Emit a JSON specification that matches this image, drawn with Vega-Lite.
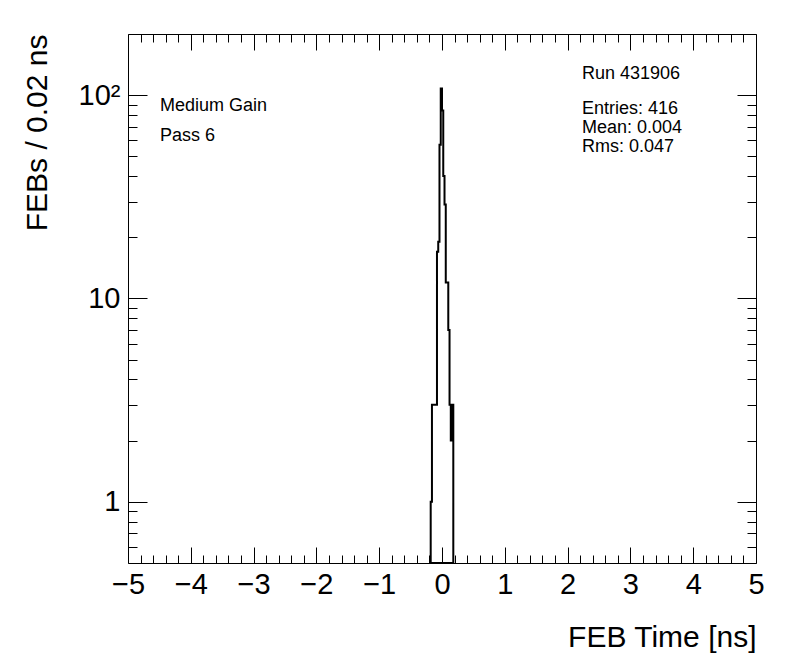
{
  "$schema": "https://vega.github.io/schema/vega-lite/v6.json",
  "width": 628,
  "height": 529,
  "autosize": {"type": "none"},
  "padding": {"left": 128, "top": 34, "right": 40, "bottom": 109},
  "background": "white",
  "config": {
    "view": {"stroke": "black", "strokeWidth": 1},
    "axis": {
      "grid": false,
      "labelFont": "Liberation Sans",
      "labelFontSize": 29,
      "labelColor": "black",
      "titleFont": "Liberation Sans",
      "titleFontSize": 30,
      "titleFontWeight": "normal",
      "titleColor": "black",
      "domainColor": "black",
      "tickColor": "black",
      "tickWidth": 1,
      "labelFlush": false,
      "labelOverlap": false
    },
    "text": {"font": "Liberation Sans", "fontSize": 18, "color": "black", "align": "left", "baseline": "alphabetic"}
  },
  "data": {
    "values": [
      {"t": -0.18, "n": 1},
      {"t": -0.16, "n": 3},
      {"t": -0.14, "n": 3},
      {"t": -0.12, "n": 3},
      {"t": -0.10, "n": 3},
      {"t": -0.08, "n": 17},
      {"t": -0.06, "n": 19},
      {"t": -0.04, "n": 57},
      {"t": -0.02, "n": 108},
      {"t": 0.00, "n": 84},
      {"t": 0.02, "n": 40},
      {"t": 0.04, "n": 29},
      {"t": 0.06, "n": 12},
      {"t": 0.08, "n": 12},
      {"t": 0.10, "n": 7},
      {"t": 0.12, "n": 3},
      {"t": 0.14, "n": 2},
      {"t": 0.16, "n": 3},
      {"t": 0.18, "n": 3}
    ]
  },
  "resolve": {"axis": {"x": "independent", "y": "independent"}},
  "layer": [
    {
      "mark": {"type": "area", "interpolate": "step-after", "fillOpacity": 0, "stroke": "black", "strokeWidth": 2, "clip": true},
      "encoding": {
        "x": {"field": "t", "type": "quantitative", "scale": {"domain": [-5, 5], "nice": false, "zero": false},
          "axis": {"orient": "bottom", "values": [-5, -4, -3, -2, -1, 0, 1, 2, 3, 4, 5], "ticks": false, "labelPadding": 7, "domain": false,
            "title": "FEB Time [ns]", "titleAnchor": "end", "titlePadding": 23}},
        "y": {"field": "n", "type": "quantitative", "scale": {"type": "log", "domain": [0.5, 200], "nice": false},
          "axis": {"orient": "left", "values": [1, 10, 100], "ticks": false, "labelPadding": 8, "domain": false,
            "labelExpr": "datum.value == 100 ? '10²' : datum.label",
            "title": "FEBs / 0.02 ns", "titleAnchor": "end", "titlePadding": 26}},
        "y2": {"datum": 0.5}
      }
    },
    {
      "mark": {"type": "point", "opacity": 0},
      "encoding": {
        "x": {"field": "t", "type": "quantitative", "scale": {"domain": [-5, 5], "nice": false, "zero": false},
          "axis": {"orient": "bottom", "values": [-5, -4, -3, -2, -1, 0, 1, 2, 3, 4, 5], "tickSize": -16, "labels": false, "domain": false, "title": null}},
        "y": {"field": "n", "type": "quantitative", "scale": {"type": "log", "domain": [0.5, 200], "nice": false},
          "axis": {"orient": "left", "values": [1, 10, 100], "tickSize": -19, "labels": false, "domain": false, "title": null}}
      }
    },
    {
      "mark": {"type": "point", "opacity": 0},
      "encoding": {
        "x": {"field": "t", "type": "quantitative", "scale": {"domain": [-5, 5], "nice": false, "zero": false},
          "axis": {"orient": "bottom", "values": [-4.8, -4.6, -4.4, -4.2, -3.8, -3.6, -3.4, -3.2, -2.8, -2.6, -2.4, -2.2, -1.8, -1.6, -1.4, -1.2, -0.8, -0.6, -0.4, -0.2, 0.2, 0.4, 0.6, 0.8, 1.2, 1.4, 1.6, 1.8, 2.2, 2.4, 2.6, 2.8, 3.2, 3.4, 3.6, 3.8, 4.2, 4.4, 4.6, 4.8], "tickSize": -8, "labels": false, "domain": false, "title": null}},
        "y": {"field": "n", "type": "quantitative", "scale": {"type": "log", "domain": [0.5, 200], "nice": false},
          "axis": {"orient": "left", "values": [0.6, 0.7, 0.8, 0.9, 2, 3, 4, 5, 6, 7, 8, 9, 20, 30, 40, 50, 60, 70, 80, 90], "tickSize": -9, "labels": false, "domain": false, "title": null}}
      }
    },
    {
      "mark": {"type": "point", "opacity": 0},
      "encoding": {
        "x": {"field": "t", "type": "quantitative", "scale": {"domain": [-5, 5], "nice": false, "zero": false},
          "axis": {"orient": "top", "values": [-5, -4, -3, -2, -1, 0, 1, 2, 3, 4, 5], "tickSize": -16, "labels": false, "domain": false, "title": null}},
        "y": {"field": "n", "type": "quantitative", "scale": {"type": "log", "domain": [0.5, 200], "nice": false},
          "axis": {"orient": "right", "values": [1, 10, 100], "tickSize": -19, "labels": false, "domain": false, "title": null}}
      }
    },
    {
      "mark": {"type": "point", "opacity": 0},
      "encoding": {
        "x": {"field": "t", "type": "quantitative", "scale": {"domain": [-5, 5], "nice": false, "zero": false},
          "axis": {"orient": "top", "values": [-4.8, -4.6, -4.4, -4.2, -3.8, -3.6, -3.4, -3.2, -2.8, -2.6, -2.4, -2.2, -1.8, -1.6, -1.4, -1.2, -0.8, -0.6, -0.4, -0.2, 0.2, 0.4, 0.6, 0.8, 1.2, 1.4, 1.6, 1.8, 2.2, 2.4, 2.6, 2.8, 3.2, 3.4, 3.6, 3.8, 4.2, 4.4, 4.6, 4.8], "tickSize": -8, "labels": false, "domain": false, "title": null}},
        "y": {"field": "n", "type": "quantitative", "scale": {"type": "log", "domain": [0.5, 200], "nice": false},
          "axis": {"orient": "right", "values": [0.6, 0.7, 0.8, 0.9, 2, 3, 4, 5, 6, 7, 8, 9, 20, 30, 40, 50, 60, 70, 80, 90], "tickSize": -9, "labels": false, "domain": false, "title": null}}
      }
    },
    {
      "data": {"values": [{"label": "Medium Gain"}]},
      "mark": {"type": "text"},
      "encoding": {
        "x": {"datum": -4.49, "type": "quantitative", "axis": null},
        "y": {"datum": 83.2, "type": "quantitative", "axis": null},
        "text": {"field": "label"}
      }
    },
    {
      "data": {"values": [{"label": "Pass 6"}]},
      "mark": {"type": "text"},
      "encoding": {
        "x": {"datum": -4.49, "type": "quantitative", "axis": null},
        "y": {"datum": 59.6, "type": "quantitative", "axis": null},
        "text": {"field": "label"}
      }
    },
    {
      "data": {"values": [{"label": "Run 431906"}]},
      "mark": {"type": "text"},
      "encoding": {
        "x": {"datum": 2.23, "type": "quantitative", "axis": null},
        "y": {"datum": 119.9, "type": "quantitative", "axis": null},
        "text": {"field": "label"}
      }
    },
    {
      "data": {"values": [{"label": "Entries: 416"}]},
      "mark": {"type": "text"},
      "encoding": {
        "x": {"datum": 2.23, "type": "quantitative", "axis": null},
        "y": {"datum": 81.2, "type": "quantitative", "axis": null},
        "text": {"field": "label"}
      }
    },
    {
      "data": {"values": [{"label": "Mean: 0.004"}]},
      "mark": {"type": "text"},
      "encoding": {
        "x": {"datum": 2.23, "type": "quantitative", "axis": null},
        "y": {"datum": 65.4, "type": "quantitative", "axis": null},
        "text": {"field": "label"}
      }
    },
    {
      "data": {"values": [{"label": "Rms: 0.047"}]},
      "mark": {"type": "text"},
      "encoding": {
        "x": {"datum": 2.23, "type": "quantitative", "axis": null},
        "y": {"datum": 52.8, "type": "quantitative", "axis": null},
        "text": {"field": "label"}
      }
    }
  ]
}
